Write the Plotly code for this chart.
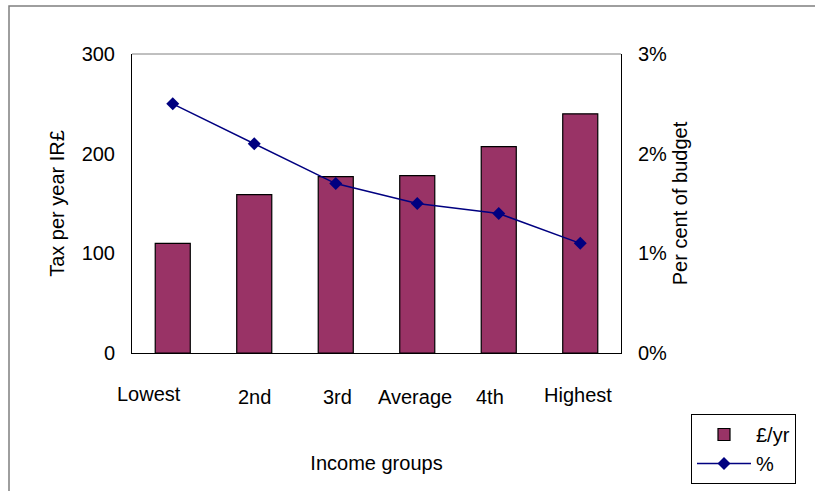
import plotly.graph_objects as go

# Income groups and the two series plotted against them
groups = ["Lowest", "2nd", "3rd", "Average", "4th", "Highest"]
tax_per_year = [110, 159, 177, 178, 207, 240]       # IR£ per year
pct_of_budget = [2.5, 2.1, 1.7, 1.5, 1.4, 1.1]       # per cent of budget

left_tickvals = [0, 100, 200, 300]
right_tickvals = [0, 1, 2, 3]
right_ticktext = ["0%", "1%", "2%", "3%"]

# Page geometry
W, H = 815, 491
ML, MR, MT, MB = 132, 194, 54, 138
PW, PH = W - ML - MR, H - MT - MB

# Small nudges for the category captions (px)
label_dx = [-24, 0, 2, -2, -9, -2]
label_dy = [0, -2.5, -3, -3, -2.5, -0.5]

FONT = "Liberation Sans, Arial, sans-serif"
FS = 20
BAR = "#993366"
LINE = "#000080"


def px_to_paper(x_px, y_px):
    return (x_px - ML) / PW, (H - MB - y_px) / PH


fig = go.Figure()

fig.add_trace(go.Bar(
    x=groups, y=tax_per_year, name="£/yr",
    marker=dict(color=BAR, line=dict(color="#000000", width=1.2)),
    yaxis="y",
))

fig.add_trace(go.Scatter(
    x=groups, y=pct_of_budget, name="%",
    mode="lines+markers",
    line=dict(color=LINE, width=1.5),
    marker=dict(symbol="diamond", size=10, color=LINE),
    yaxis="y2",
))

# Category captions beneath the axis
annotations = []
for g, dx, dy in zip(groups, label_dx, label_dy):
    annotations.append(dict(
        x=g, xref="x", y=0, yref="y", yanchor="top", xanchor="center",
        text=g, showarrow=False, xshift=dx, yshift=-28 + dy,
        font=dict(family=FONT, size=FS, color="#000000"),
    ))

# Outer chart frame and the grey top edge of the plot area
x0, y0 = px_to_paper(9, 6)
x1, y1 = px_to_paper(W + 10, H + 10)
shapes = [
    dict(type="rect", xref="paper", yref="paper", x0=x0, y0=y1, x1=x1, y1=y0,
         line=dict(color="#7f7f7f", width=1.5), layer="below"),
    dict(type="line", xref="paper", yref="paper", x0=0, x1=1, y0=1, y1=1,
         line=dict(color="#808080", width=1), layer="above"),
]

fig.update_layout(
    width=W, height=H,
    margin=dict(l=ML, r=MR, t=MT, b=MB, pad=0),
    paper_bgcolor="white", plot_bgcolor="white",
    font=dict(family=FONT, size=FS, color="#000000"),
    bargap=0.57,
    showlegend=True,
    legend=dict(
        xref="container", yref="container",
        x=691 / W, y=1 - 414 / H, xanchor="left", yanchor="top",
        bordercolor="#000000", borderwidth=1, bgcolor="white",
        font=dict(family=FONT, size=FS), itemwidth=54,
        tracegroupgap=0,
    ),
    xaxis=dict(
        type="category", range=[-0.5, len(groups) - 0.5],
        showticklabels=False, ticks="",
        showline=True, linecolor="#000000", linewidth=1,
        showgrid=False, zeroline=False, automargin=False,
        title=dict(text="Income groups", standoff=102,
                   font=dict(family=FONT, size=FS)),
    ),
    yaxis=dict(
        range=[0, 300], tickvals=left_tickvals, ticks="",
        showline=True, linecolor="#000000", linewidth=1,
        showgrid=False, zeroline=False, automargin=False,
        ticklabelstandoff=12,
        title=dict(text="Tax per year IR£", standoff=11,
                   font=dict(family=FONT, size=FS)),
    ),
    yaxis2=dict(
        range=[0, 3], tickvals=right_tickvals, ticktext=right_ticktext,
        overlaying="y", side="right", ticks="",
        showline=True, linecolor="#000000", linewidth=1,
        showgrid=False, zeroline=False, automargin=False,
        ticklabelstandoff=12,
        title=dict(text="Per cent of budget", standoff=17,
                   font=dict(family=FONT, size=FS)),
    ),
    annotations=annotations,
    shapes=shapes,
)

fig.write_html("out.html")
